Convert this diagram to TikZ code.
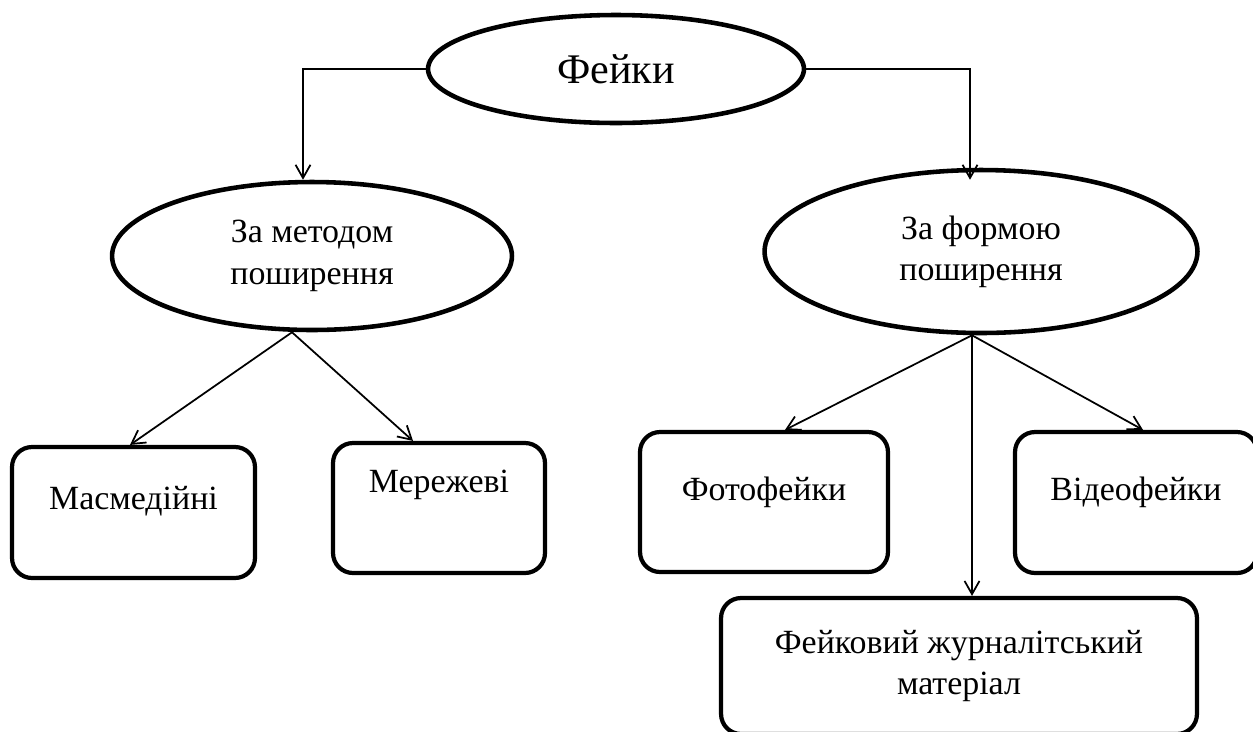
\documentclass[tikz,border=0pt]{standalone}
\usepackage{fontspec}
\setmainfont{Liberation Serif}
\usetikzlibrary{arrows.meta, shapes.geometric}

\begin{document}
\begin{tikzpicture}[
        x=0.02cm, y=-0.02cm,
        oval/.style={draw, ellipse, line width=2.6pt, inner sep=0pt, align=center,
            font=\fontsize{19.3}{23.5}\selectfont},
        box/.style={draw, rectangle, rounded corners=0.4cm, line width=2.4pt, inner sep=0pt,
            align=center, font=\fontsize{19.3}{23.5}\selectfont},
        arrow/.style={draw, line width=1pt, -{Straight Barb[length=7.5pt, width=8.5pt, line width=1pt]}}
    ]
    \useasboundingbox (0,0) rectangle (1253,731);

    % Овали
    \node (feiky) [oval, minimum width=7.52cm, minimum height=2.16cm,
        font=\fontsize{24}{28}\selectfont] at (616,69) {Фейки};
    \node (metod) [oval, minimum width=8cm, minimum height=2.96cm] at (312,256)
        {За методом\\поширення};
    \node (forma) [oval, minimum width=8.66cm, minimum height=3.26cm] at (981,251.5)
        {За формою\\поширення};

    % Блоки
    \node (masmedia) [box, minimum width=4.86cm, minimum height=2.62cm,
        text height=0.5cm, text depth=0.64cm] at (133.5,512.5) {Масмедійні};
    \node (merezhevi) [box, minimum width=4.24cm, minimum height=2.6cm,
        text height=0.5cm, text depth=1.14cm] at (439,508) {Мережеві};
    \node (foto) [box, minimum width=4.96cm, minimum height=2.8cm,
        text height=0.5cm, text depth=0.58cm] at (764,502) {Фотофейки};
    \node (video) [box, minimum width=4.84cm, minimum height=2.82cm,
        text height=0.5cm, text depth=0.6cm] at (1136,502.5) {Відеофейки};
    \node (zhurnal) [box, minimum width=9.52cm, minimum height=2.72cm] at (959,666)
        {Фейковий журналітський\\матеріал};

    % Зв'язки
    \draw[arrow] (feiky.west) -| ([xshift=-0.18cm]metod.north);
    \draw[arrow] (feiky.east) -| ([xshift=-0.22cm, yshift=-0.24cm]forma.north);
    \draw[arrow] ([xshift=-0.4cm]metod.south) -- ([xshift=-0.07cm]masmedia.north);
    \draw[arrow] ([xshift=-0.4cm]metod.south) -- ([xshift=-0.52cm]merezhevi.north);
    \draw[arrow] ([xshift=-0.18cm]forma.south) -- ([xshift=0.42cm]foto.north);
    \draw[arrow] ([xshift=-0.18cm]forma.south) -- ([xshift=0.14cm]video.north);
    \draw[arrow] ([xshift=-0.18cm]forma.south) -- ([xshift=0.26cm]zhurnal.north);

\end{tikzpicture}
\end{document}
